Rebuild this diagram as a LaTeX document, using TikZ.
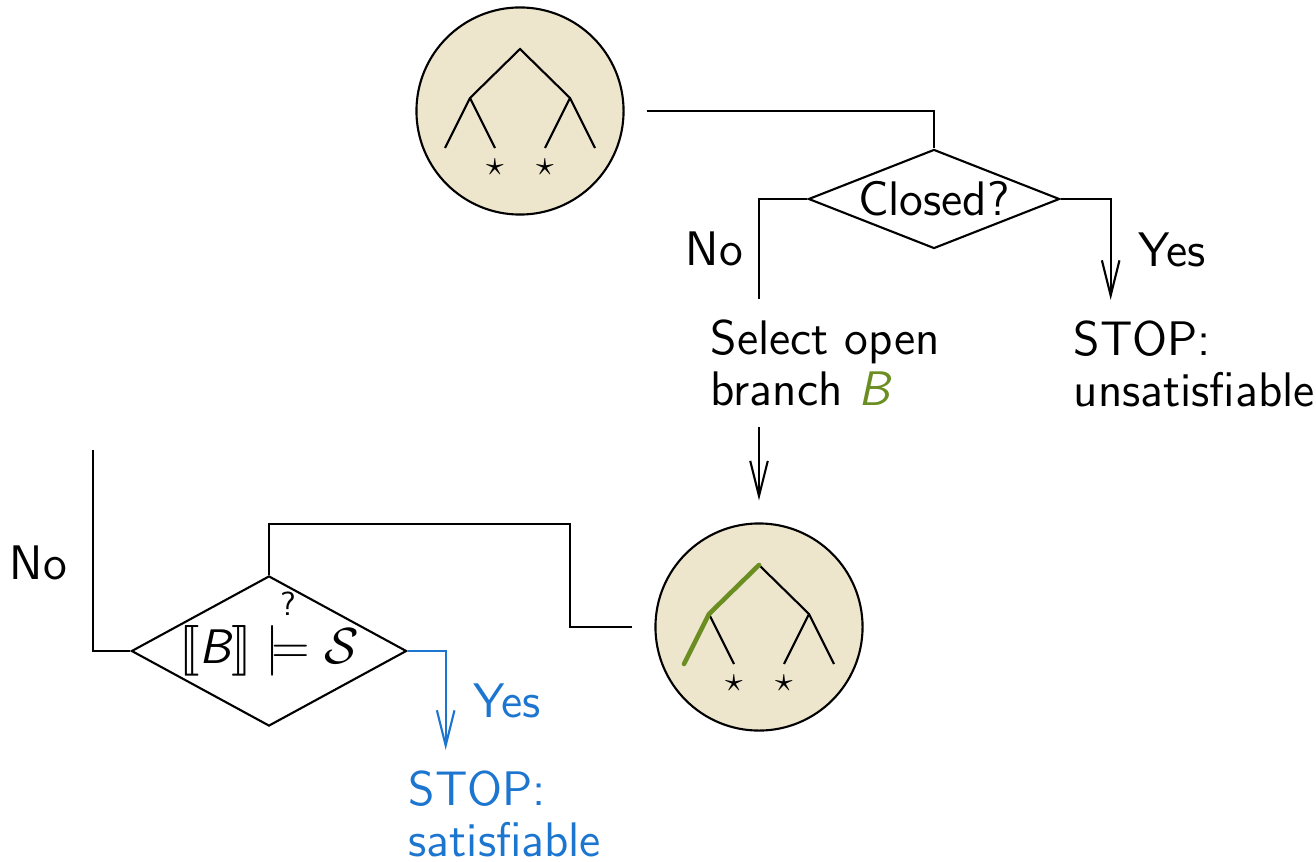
\documentclass[tikz,border=0pt]{standalone}
\usepackage{fontspec}
\usepackage{amssymb,stmaryrd}
\usepackage{xcolor}
\definecolor{treebeige}{HTML}{EDE6CC}
\definecolor{branchgreen}{HTML}{6B8E23}
\definecolor{satblue}{HTML}{1C75CF}
\usetikzlibrary{shapes.geometric,arrows.meta,positioning}
\newcommand{\flowfont}{\fontsize{13.8}{14.7}\selectfont\sffamily}
\newcommand{\smallq}{\hbox{\fontsize{9.5}{10}\selectfont\sffamily ?}}
\tikzset{
  tabnode/.style={
    circle, draw, fill=treebeige, line width=0.6pt,
    minimum size=2.07cm, inner sep=0pt, outer sep=0.23cm
  },
  testnode/.style={
    diamond, draw, line width=0.6pt, inner sep=0pt, font=\flowfont
  },
  txtnode/.style={align=left, inner sep=0.2cm, font=\flowfont},
  lbl/.style={font=\flowfont, inner sep=0pt},
  flow/.style={line width=0.6pt},
  flowarr/.style={flow, -{Straight Barb[length=10pt,width=5pt]}},
  treeline/.style={line width=0.6pt},
  openbranch/.style={draw=branchgreen, line width=1.3pt,
                     line cap=round, line join=round}
}

\begin{document}
\begin{tikzpicture}[x=0.01cm, y=-0.01cm]
  \useasboundingbox (0,0) rectangle (1316,861);

  % tableaux
  \node[tabnode] (c1) at (520,111) {};
  \node[tabnode] (c2) at (759,627) {};
  \foreach \c in {c1,c2} {
    \begin{scope}[shift={(\c.center)}]
      \draw[treeline] (-75,37) -- (-50,-13) -- (0,-62) -- (50,-13) -- (75,37);
      \draw[treeline] (-25,37) -- (-50,-13);
      \draw[treeline] (25,37) -- (50,-13);
      \node (\c-s1) at (-25,56) {$\star$};
      \node (\c-s2) at (25,56) {$\star$};
    \end{scope}
  }
  \begin{scope}[shift={(c2.center)}]
    \draw[openbranch] (-75,37) -- (-50,-13) -- (0,-62);
  \end{scope}

  % tests
  \node[testnode, aspect=2.5, minimum width=2.51cm, minimum height=0.99cm]
    (d1) at (934,199) {Closed?};
  \node[testnode, aspect=1.83, minimum width=2.75cm, minimum height=1.5cm]
    (d2) at (269,651)
    {$\llbracket \textit{B} \rrbracket
      \mathrel{\smash{\stackrel{\smallq}{\models}}} \mathcal{S}$};

  % texts
  \node[txtnode, anchor=west] (sel) at (690,363)
    {Select open\\branch \textcolor{branchgreen}{\textit{B}}};
  \node[txtnode, anchor=west] (unsat) at (1053,364) {STOP:\\unsatisfiable};
  \node[txtnode, anchor=west, text=satblue] (sat) at (388,814)
    {STOP:\\satisfiable};

  \coordinate (yes1x) at ([xshift=0.5cm]d1.east);
  \coordinate (yes2x) at ([xshift=0.38cm]d2.east);
  \coordinate (back) at (93,450);

  % connectors
  \draw[flow] (c1.east) -| (d1.north);
  \draw[flow] (d1.west) -| (sel.north -| c2.center)
    node[lbl, pos=0.75, left=0.15cm] (no1) {No};
  \draw[flowarr] (d1.east) -| (yes1x |- unsat.north)
    node[lbl, pos=0.75, right=0.27cm] (yes1) {Yes};
  \draw[flowarr] (sel.south -| c2.center) -- (c2.north);
  \draw[flow] (c2.west) -- ++(-62,0) |- ([yshift=0.51cm]d2.north)
    -- (d2.north);
  \draw[flow] (d2.west) -| (back)
    node[lbl, pos=0.72, left=0.25cm] (no2) {No};
  \draw[flowarr, satblue] (d2.east) -| (yes2x |- sat.north)
    node[lbl, pos=0.75, right=0.27cm] (yes2) {Yes};
\end{tikzpicture}
\end{document}
